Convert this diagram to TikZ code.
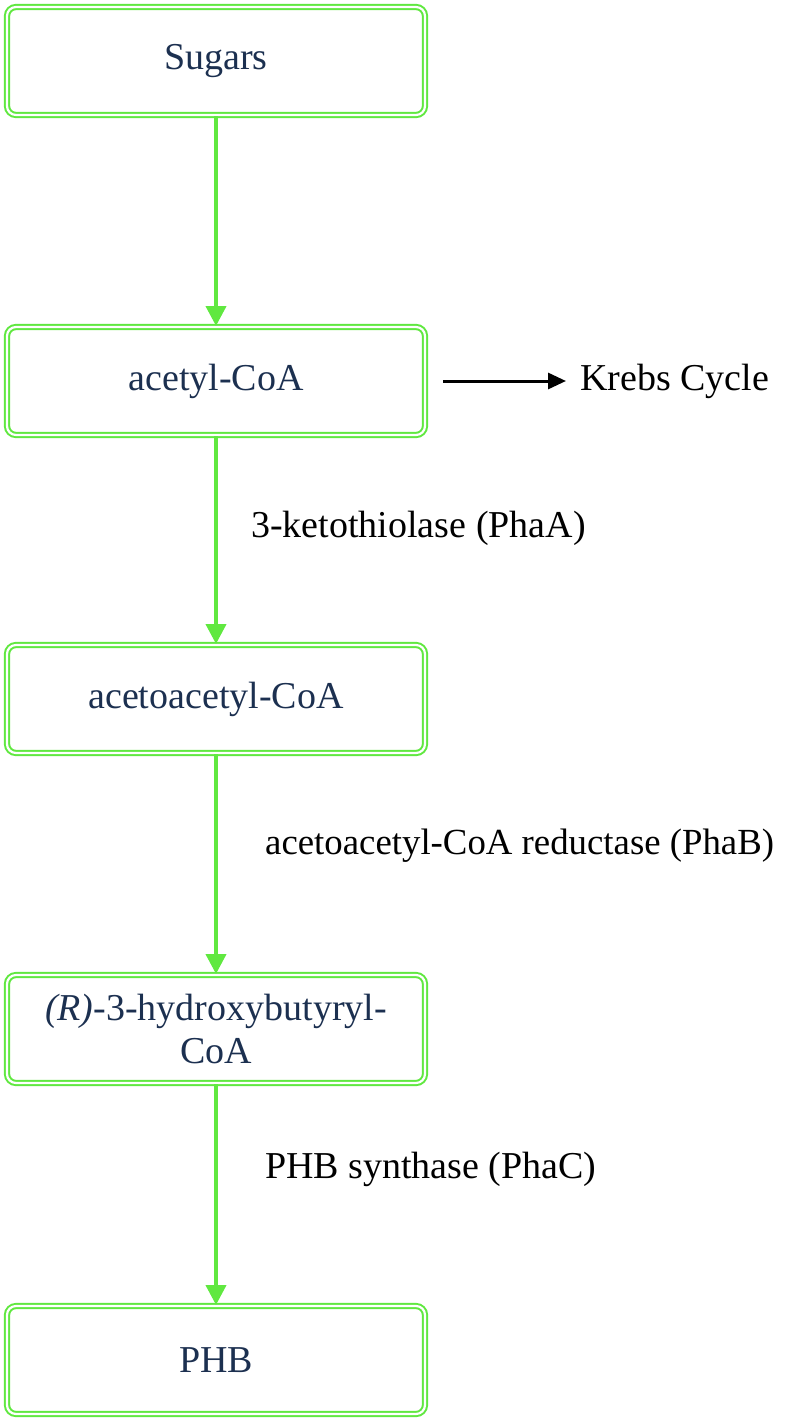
\documentclass[tikz,border=0pt]{standalone}
\usepackage{fontspec}
\setmainfont{Liberation Serif}
\usetikzlibrary{arrows.meta}
\definecolor{boxgreen}{RGB}{96,232,64}
\definecolor{navy}{RGB}{28,48,80}
\tikzset{
  stepbox/.style={draw=boxgreen, double=white, double distance=2.2pt, line width=2pt,
    rounded corners=9pt, minimum width=418pt, minimum height=108pt, inner sep=0pt,
    text=navy, align=center, font=\fontsize{38}{43}\selectfont},
  flow/.style={draw=boxgreen, line width=4pt, -{Triangle[width=20pt,length=20pt]}},
  side/.style={draw=black, line width=3pt, -{Triangle[width=16pt,length=18pt]}},
  lab/.style={anchor=west, inner sep=0pt, font=\fontsize{38}{43}\selectfont, text=black}
}
\begin{document}
\begin{tikzpicture}[x=1pt,y=-1pt]
\useasboundingbox (0,0) rectangle (787,1421);
\node[stepbox] (sug) at (216,61) {Sugars};
\node[stepbox] (acc) at (216,381) {acetyl-CoA};
\node[stepbox] (aac) at (216,699) {acetoacetyl-CoA};
\node[stepbox] (hb) at (216,1029) {\textit{(R)}-3-hydroxybutyryl-\\CoA};
\node[stepbox] (phb) at (216,1360) {PHB};
\node[lab] (krebs) at (580,381) {Krebs Cycle};
\coordinate (kstart) at (443,381);
\draw[flow] (sug) -- (acc);
\draw[flow] (acc) -- (aac);
\draw[flow] (aac) -- (hb);
\draw[flow] (hb) -- (phb);
\draw[side] (kstart) -- (krebs.west -| 566,0);
\node[lab] (l1) at (251,528) {3-ketothiolase (PhaA)};
\node[lab, font=\fontsize{36.8}{43}\selectfont] (l2) at (265,846) {acetoacetyl-CoA reductase (PhaB)};
\node[lab] (l3) at (265,1169) {PHB synthase (PhaC)};
\end{tikzpicture}
\end{document}
